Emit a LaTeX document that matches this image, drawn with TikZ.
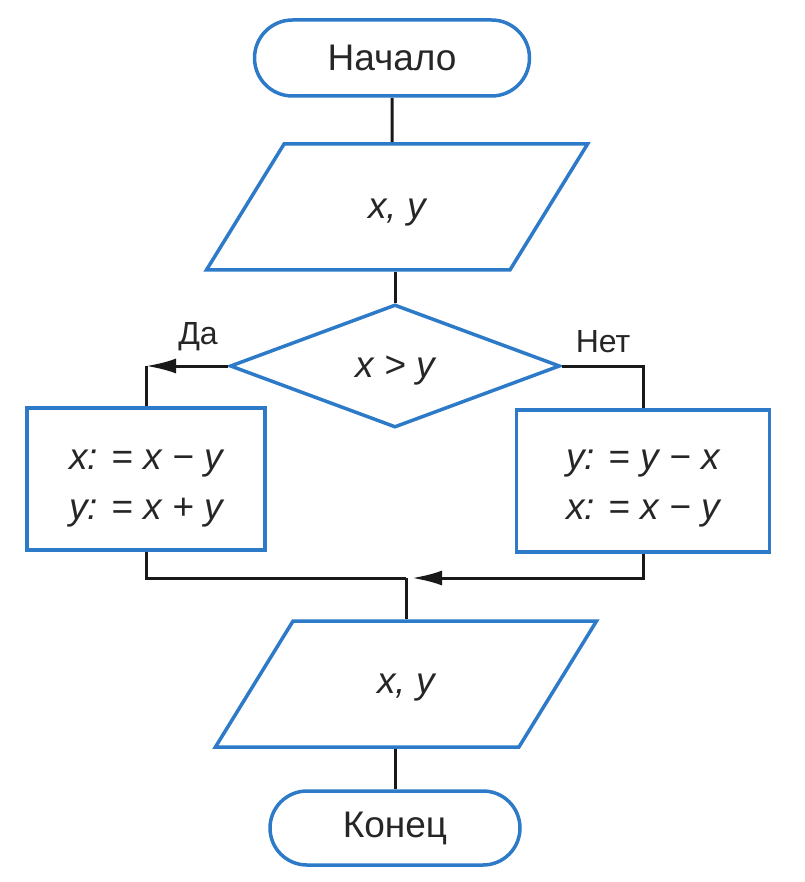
\documentclass[tikz,border=0pt]{standalone}
\usepackage{fontspec}
\setmainfont{Liberation Sans}
\usetikzlibrary{shapes.geometric,shapes.misc,arrows.meta,calc}
\definecolor{fcblue}{RGB}{45,122,200}
\newcommand{\dn}[2]{\raisebox{-#1}[\height][\depth]{#2}}
\begin{document}
\begin{tikzpicture}[x=1pt,y=-1pt,
  every node/.style={font=\fontsize{37}{44}\selectfont, text=black!85},
  term/.style={rounded rectangle, draw=fcblue, line width=3.5pt, minimum width=#1, minimum height=76pt, inner sep=0pt},
  io/.style={trapezium, trapezium stretches=true, trapezium left angle=54, trapezium right angle=126, draw=fcblue, line width=3.5pt, minimum width=385pt, minimum height=126pt, inner sep=0pt},
  dec/.style={diamond, draw=fcblue, line width=3.5pt, minimum width=330pt, minimum height=123pt, inner sep=0pt},
  proc/.style={rectangle, draw=fcblue, line width=3.5pt, align=left, inner sep=0pt},
  conn/.style={draw=black!90, line width=3pt},
  tip/.style={-{Latex[length=30pt,width=15pt]}},
  lbl/.style={font=\fontsize{32}{38}\selectfont}
]
\useasboundingbox (0,0) rectangle (804,882);
\node[term=275pt] (start) at (392,58) {Начало};
\node[io] (in) at (397,207) {\dn{6pt}{\itshape x, y}};
\node[dec] (cond) at (395,366) {\dn{5pt}{\itshape x > y}};
\node[proc, minimum width=238pt, minimum height=142pt] (lbox) at (146,479)
  {\dn{7pt}{\begin{tabular}{@{}l@{}}\itshape x: = x − y\\[6pt]\itshape y: = x + y\end{tabular}}};
\node[proc, minimum width=253pt, minimum height=142pt] (rbox) at (643,481)
  {\dn{5pt}{\begin{tabular}{@{}l@{}}\itshape y: = y − x\\[6pt]\itshape x: = x − y\end{tabular}}};
\node[io] (out) at (406,684) {\dn{4pt}{\itshape x, y}};
\node[term=250pt, minimum height=74pt] (stop) at (395,828) {Конец};

\coordinate (cL) at (lbox.north |- cond.west);
\coordinate (cR) at (rbox.north |- cond.east);
\coordinate (mC) at (out.north |- 0,578);

\node[lbl, anchor=south] (da) at (198,354) {Да};
\node[lbl, anchor=south] (net) at (603,356) {Нет};

\draw[conn] (start) -- (start |- in.north);
\draw[conn] (in.south -| cond.north) -- (cond.north);
\draw[conn, tip] (cond.west) -- (cL);
\draw[conn] (cL) -- (lbox.north);
\draw[conn] (cond.east) -- (cR) -- (rbox.north);
\draw[conn] (lbox.south) |- (mC);
\draw[conn, tip] (rbox.south) |- ($(mC)+(6,0)$);
\draw[conn] (mC) -- (out.north);
\draw[conn] (out.south -| stop.north) -- (stop.north);
\end{tikzpicture}
\end{document}
